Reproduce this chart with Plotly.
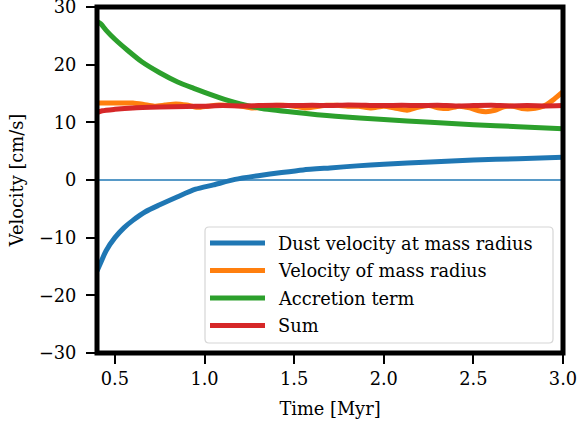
import plotly.graph_objects as go

# ---- data ----
blue_x = [0.40, 0.42, 0.45, 0.50, 0.55, 0.60, 0.67, 0.75, 0.85, 0.95, 1.05, 1.17,
          1.30, 1.43, 1.55, 1.70, 1.85, 2.00, 2.26, 2.50, 2.75, 3.00]
blue_y = [-15.8, -14.4, -12.3, -10.0, -8.3, -7.0, -5.5, -4.3, -2.9, -1.6, -0.85, 0.1,
          0.75, 1.3, 1.75, 2.1, 2.45, 2.75, 3.1, 3.45, 3.7, 3.95]

orange_x = [0.40, 0.50, 0.60, 0.66, 0.72, 0.78, 0.84, 0.90, 0.96, 1.02, 1.08, 1.14,
            1.20, 1.26, 1.32, 1.38, 1.44, 1.50, 1.56, 1.62, 1.68, 1.74, 1.80, 1.86,
            1.93, 2.00, 2.06, 2.13, 2.19, 2.25, 2.31, 2.36, 2.42, 2.48, 2.53, 2.57,
            2.62, 2.67, 2.72, 2.77, 2.82, 2.87, 2.91, 2.95, 3.00]
orange_y = [13.35, 13.35, 13.35, 13.1, 12.8, 13.0, 13.2, 13.0, 12.6, 12.8, 13.0, 12.95,
            12.85, 12.5, 12.6, 12.9, 12.95, 12.8, 12.5, 12.7, 12.95, 12.95, 12.8, 12.8,
            12.5, 12.8, 12.5, 12.1, 12.6, 12.9, 12.5, 12.4, 12.8, 12.5, 12.0, 11.85,
            12.1, 12.7, 12.8, 12.4, 12.35, 12.6, 13.1, 14.0, 15.3]

green_x = [0.40, 0.42, 0.45, 0.50, 0.57, 0.65, 0.75, 0.85, 0.94, 1.00, 1.13, 1.20,
           1.31, 1.50, 1.73, 2.00, 2.26, 2.50, 2.75, 3.00]
green_y = [27.5, 27.1, 26.0, 24.4, 22.5, 20.5, 18.6, 17.0, 15.9, 15.2, 13.8, 13.2,
           12.45, 11.75, 11.05, 10.5, 10.0, 9.6, 9.25, 8.9]

red_x = [0.40, 0.43, 0.50, 0.60, 0.75, 0.90, 1.00, 1.10, 1.20, 1.30, 1.40, 1.50,
         1.60, 1.70, 1.80, 1.90, 2.00, 2.10, 2.20, 2.30, 2.40, 2.50, 2.60, 2.70,
         2.80, 2.90, 3.00]
red_y = [11.7, 12.0, 12.25, 12.5, 12.65, 12.75, 12.8, 12.9, 12.85, 12.9, 12.95, 12.9,
         12.95, 12.9, 13.0, 12.95, 12.9, 12.95, 12.9, 12.95, 12.85, 12.9, 12.95, 12.85,
         12.9, 12.85, 12.9]

series_names = ["Dust velocity at mass radius", "Velocity of mass radius",
                "Accretion term", "Sum"]
series_colors = ["#1f77b4", "#ff7f0e", "#2ca02c", "#d62728"]
series_x = [blue_x, orange_x, green_x, red_x]
series_y = [blue_y, orange_y, green_y, red_y]

x_ticks = [0.5, 1.0, 1.5, 2.0, 2.5, 3.0]
y_ticks = [-30, -20, -10, 0, 10, 20, 30]
x_range = [0.4, 3.0]
y_range = [-30, 30]
zero_level = 0

FONT = "DejaVu Serif, Liberation Serif, serif"
FS = 17.8

fig = go.Figure()
for xs, ys, nm, col in zip(series_x, series_y, series_names, series_colors):
    fig.add_trace(go.Scatter(x=xs, y=ys, mode="lines", name=nm,
                             line=dict(color=col, width=5, shape="spline", smoothing=0.6),
                             showlegend=False))

# zero line
fig.add_shape(type="line", xref="paper", x0=0, x1=1, yref="y", y0=zero_level, y1=zero_level,
              line=dict(color="#1f77b4", width=1.5), layer="below")

# frame
fig.add_shape(type="rect", xref="paper", yref="paper", x0=0, x1=1, y0=0, y1=1,
              line=dict(color="black", width=5), layer="above")

# manual legend (matplotlib style)
W, H = 466.0, 346.0
L, T = 97.0, 7.0
def px(xp):
    return (xp - L) / W
def py(yp):
    return (T + H - yp) / H

bx0, bx1, by0, by1 = 205.0, 553.0, 227.0, 343.0
r = 4.0
path = (f"M{px(bx0 + r)},{py(by0)} L{px(bx1 - r)},{py(by0)} "
        f"Q{px(bx1)},{py(by0)} {px(bx1)},{py(by0 + r)} "
        f"L{px(bx1)},{py(by1 - r)} Q{px(bx1)},{py(by1)} {px(bx1 - r)},{py(by1)} "
        f"L{px(bx0 + r)},{py(by1)} Q{px(bx0)},{py(by1)} {px(bx0)},{py(by1 - r)} "
        f"L{px(bx0)},{py(by0 + r)} Q{px(bx0)},{py(by0)} {px(bx0 + r)},{py(by0)} Z")
fig.add_shape(type="path", xref="paper", yref="paper", path=path,
              line=dict(color="#d6d6d6", width=1.2), fillcolor="rgba(255,255,255,0.8)",
              layer="above")
row_y = [243.0, 270.5, 298.0, 325.5]
for nm, col, ry in zip(series_names, series_colors, row_y):
    fig.add_shape(type="line", xref="paper", yref="paper", x0=px(210), x1=px(265),
                  y0=py(ry), y1=py(ry), line=dict(color=col, width=5), layer="above")
    fig.add_annotation(xref="paper", yref="paper", x=px(276), y=py(ry), text=nm,
                       showarrow=False, xanchor="left", yanchor="middle",
                       font=dict(family=FONT, size=FS, color="black"))

fig.update_layout(
    width=579, height=426,
    margin=dict(l=97, r=16, t=7, b=73, autoexpand=False),
    paper_bgcolor="white", plot_bgcolor="white",
    font=dict(family=FONT, size=FS, color="black"),
    showlegend=False,
)
fig.update_xaxes(range=x_range, tickvals=x_ticks, ticktext=[f"{v:.1f}" for v in x_ticks],
                 ticks="outside", ticklen=9.5, tickwidth=2, tickcolor="black",
                 ticklabeloverflow="allow",
                 showgrid=False, zeroline=False, showline=False,
                 title=dict(text="Time [Myr]", font=dict(family=FONT, size=FS), standoff=14),
                 automargin=False)
fig.update_yaxes(range=y_range, tickvals=y_ticks,
                 ticks="outside", ticklen=10, tickwidth=2, tickcolor="black",
                 ticklabeloverflow="allow", ticklabelstandoff=6,
                 showgrid=False, zeroline=False, showline=False,
                 title=dict(text="Velocity [cm/s]", font=dict(family=FONT, size=FS), standoff=10),
                 automargin=False)

fig.write_html("out.html")
